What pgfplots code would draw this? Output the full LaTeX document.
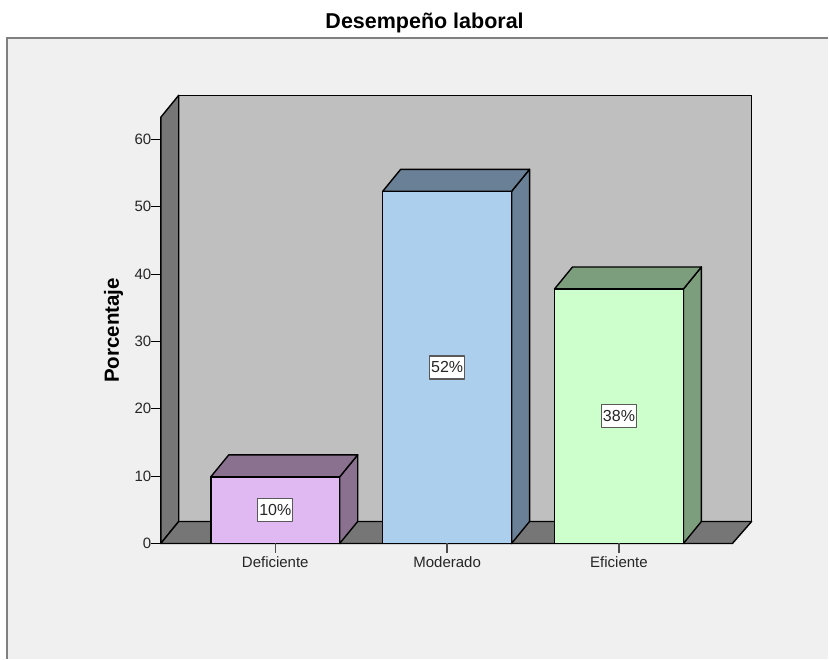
\documentclass[border=0pt]{standalone}
\usepackage{fontspec}
\setmainfont{Liberation Sans}
\usepackage{pgfplots}
\pgfplotsset{compat=1.18}
\definecolor{panel}{HTML}{F0F0F0}
\definecolor{framegray}{HTML}{808080}
\definecolor{wall}{HTML}{BFBFBF}
\definecolor{floorgray}{HTML}{767676}
\definecolor{lilac}{HTML}{E0B9F3}
\definecolor{lilacdark}{HTML}{8A7190}
\definecolor{skyblue}{HTML}{ACCFEE}
\definecolor{skydark}{HTML}{6A8096}
\definecolor{mint}{HTML}{CCFFCC}
\definecolor{mintdark}{HTML}{7D9E7D}
\begin{document}
\begin{tikzpicture}
\begin{axis}[
  scale only axis, width=572pt, height=426.5pt,
  xmin=0.334, xmax=3.66, ymin=0, ymax=63.3,
  clip=false, axis on top, axis lines=left, axis line style={-, draw=none},
  xtick={1,2,3}, xticklabels={Deficiente,Moderado,Eficiente},
  ytick={0,10,20,30,40,50,60},
  tick align=outside, major tick length=9.5pt,
  tick style={black, line width=1.3pt}, x tick style={black!70},
  tick label style={font=\fontsize{15}{16}\selectfont, text=black!85},
  xticklabel style={yshift=0pt}, yticklabel style={xshift=3.5pt},
  /pgf/number format/assume math mode=true,
  title={Desempeño laboral},
  every axis title shift=0pt,
  title style={at={(0.4615,1.2205)}, anchor=center, font=\bfseries\fontsize{21.5}{24}\selectfont},
  ylabel={Porcentaje},
  ylabel style={at={(-0.0825,0.5)}, anchor=center, font=\bfseries\fontsize{20.5}{22}\selectfont},
  every axis plot/.append style={draw=black, line width=1.4pt, line join=round},
]
% page and panel
\fill[white] (axis cs:-0.6017,-17.15) rectangle (axis cs:4.218,80.72);
\fill[panel] (axis cs:-0.561,-17.15) rectangle (axis cs:4.218,75.08);
\draw[framegray, line width=1.4pt] (axis cs:-0.561,-17.15) -- (axis cs:-0.561,75.08) -- (axis cs:4.218,75.08);
% walls and floor
\addplot[fill=wall] coordinates {(0.4382,3.27) (3.772,3.27) (3.772,66.57) (0.4382,66.57)} --cycle;
\addplot[fill=floorgray] coordinates {(0.334,0) (0.4382,3.27) (0.4382,66.57) (0.334,63.3)} --cycle;
\addplot[fill=floorgray] coordinates {(0.334,0) (3.66,0) (3.772,3.27) (0.4382,3.27)} --cycle;
% Deficiente
\addplot[fill=lilacdark] coordinates {(1.375,0) (1.4797,3.27) (1.4797,13.17) (1.375,9.9)} --cycle;
\addplot[fill=lilacdark] coordinates {(0.625,9.9) (1.375,9.9) (1.4797,13.17) (0.7297,13.17)} --cycle;
\addplot[ybar, bar width=129pt, bar shift=0pt, fill=lilac] coordinates {(1,9.9)};
% Moderado
\addplot[fill=skydark] coordinates {(2.375,0) (2.4797,3.27) (2.4797,55.57) (2.375,52.3)} --cycle;
\addplot[fill=skydark] coordinates {(1.625,52.3) (2.375,52.3) (2.4797,55.57) (1.7297,55.57)} --cycle;
\addplot[ybar, bar width=129pt, bar shift=0pt, fill=skyblue] coordinates {(2,52.3)};
% Eficiente
\addplot[fill=mintdark] coordinates {(3.375,0) (3.4797,3.27) (3.4797,41.07) (3.375,37.8)} --cycle;
\addplot[fill=mintdark] coordinates {(2.625,37.8) (3.375,37.8) (3.4797,41.07) (2.7297,41.07)} --cycle;
\addplot[ybar, bar width=129pt, bar shift=0pt, fill=mint] coordinates {(3,37.8)};
% value labels
\addplot[only marks, mark=none, draw=none, point meta=explicit symbolic, nodes near coords,
  nodes near coords style={anchor=center, fill=white, draw=black!65, line width=1.2pt,
    inner sep=0pt, minimum width=35pt, minimum height=23pt, text=black!85,
    font=\fontsize{16}{17}\selectfont}]
  coordinates {(1,4.95) [10\%] (2,26.15) [52\%] (3,18.9) [38\%]};
\end{axis}
\end{tikzpicture}
\end{document}
